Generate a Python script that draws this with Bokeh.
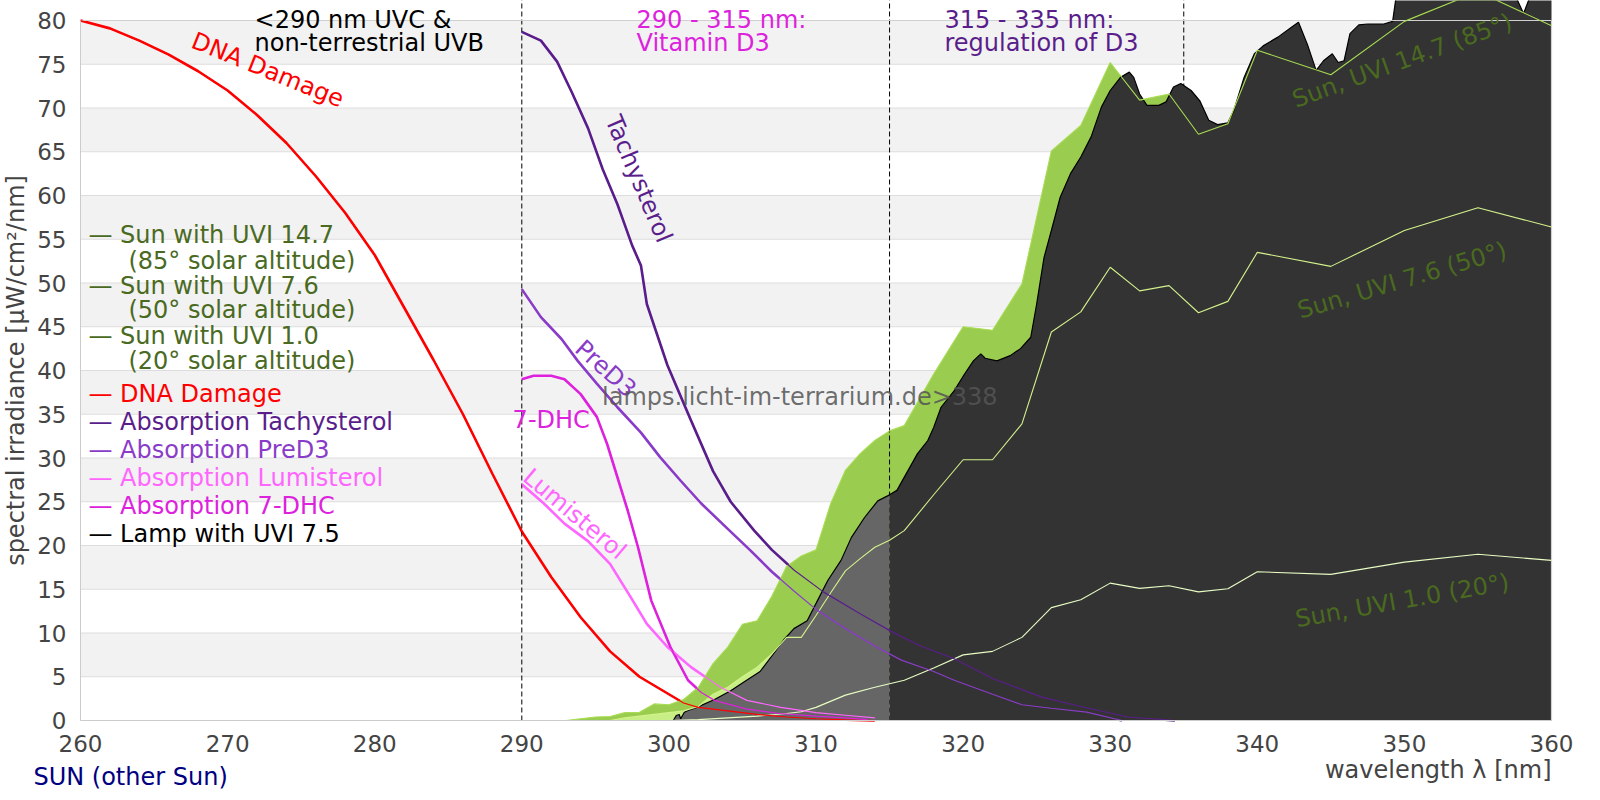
import numpy as np
from bokeh.plotting import figure
from bokeh.models import Range1d, FixedTicker, Label
from bokeh.embed import file_html
from bokeh.resources import INLINE

FONT = "DejaVu Sans"

# ---------------- data ----------------
dna_x = [260, 262, 264, 266, 268, 270, 272, 274, 276, 278, 280, 282, 284, 286, 288, 290,
         292, 294, 296, 298, 299, 300, 301, 302, 304, 306, 308, 310, 312, 314]
dna_y = [80, 79.1, 77.7, 76.1, 74.2, 72, 69.2, 66, 62.2, 58, 53.2, 47.2, 41.2, 35, 28.2, 21.6,
         16.4, 11.8, 7.9, 5.0, 4.0, 3.0, 2.0, 1.5, 1.1, 0.7, 0.4, 0.2, 0.08, 0]

tachy_x = [290, 291.3, 292.4, 293.4, 294.5, 295.5, 296.5, 297.5, 298.1, 298.5, 299.9, 301.5,
           303, 304.2, 305.8, 307, 308.5, 310.5, 313, 315.2, 317, 319.4, 322, 325.3, 328,
           331.2, 334.4]
tachy_y = [78.7, 77.7, 75.3, 71.8, 67.7, 63, 59, 54.3, 52, 47.6, 40.6, 34.3,
           28.5, 25, 21.7, 19.5, 17.2, 14.7, 12.2, 10.1, 8.6, 7.05, 4.8, 2.7, 1.6,
           0.4, 0]

pred3_x = [290, 291.3, 292.7, 293.8, 295.1, 296.5, 298.1, 299.4, 300.8, 302.2, 304, 305.5,
           307, 308.5, 310, 312, 314, 315.8, 318, 319.4, 322, 324, 326, 328.4, 330.8]
pred3_y = [49.3, 46.1, 43.6, 41.1, 38.5, 35.8, 32.9, 30.1, 27.4, 24.8, 21.9, 19.5,
           17, 14.8, 12.7, 10.5, 8.5, 6.9, 5.6, 4.6, 3, 1.8, 1.4, 0.95, 0]

dhc_x = [290, 290.8, 292, 292.9, 294, 295.1, 295.8, 296.5, 297.2, 297.9, 298.8, 300.1,
         301.3, 302.2, 303.1, 305.3, 307.5, 310, 312, 313.5]
dhc_y = [39, 39.4, 39.4, 39, 37.3, 34.7, 31.6, 27.8, 24, 19.8, 13.7, 8.4,
         4.6, 3.2, 2.3, 1.3, 0.8, 0.5, 0.3, 0.1]

lumi_x = [290, 291.5, 292.9, 294.5, 296, 297.4, 298.5, 299.9, 301.5, 303.5, 305.3, 307.6,
          310, 312, 314]
lumi_y = [27, 24.8, 22.5, 20.5, 17.9, 14.1, 11.05, 8.4, 6.1, 3.8, 2.3, 1.5,
          0.9, 0.6, 0.3]

sun147_x = [293, 294, 295, 296, 297, 298, 299, 300, 301, 302, 303, 304, 305, 306, 307, 308,
            309, 310, 311, 312, 313, 314, 315, 316, 318, 320, 322, 324, 326, 328, 330, 332,
            334, 336, 338, 340, 345, 350, 355, 360]
sun147_y = [0, 0.2, 0.4, 0.45, 0.9, 0.95, 1.9, 1.8, 2.4, 3.8, 6.5, 8.4, 11, 11.4, 14.2, 17.6,
            18.8, 19.5, 24.8, 28.6, 30.5, 32, 33.1, 33.7, 39.6, 45, 44.6, 49.9, 65.1, 68, 75.2, 70.9,
            71.6, 67, 68.2, 76.6, 73.8, 79.9, 83.3, 79.4]

sun76_x = [296, 297, 298, 299, 300, 301, 302, 303, 304, 305, 306, 307, 308, 309, 310, 311,
           312, 313, 314, 315, 316, 318, 320, 322, 324, 326, 328, 330, 332, 334, 336, 338,
           340, 345, 350, 355, 360]
sun76_y = [0, 0.3, 0.5, 0.7, 0.9, 1.1, 1.6, 3.0, 3.8, 5.0, 6.1, 7.6, 9.5, 9.5, 12.0, 14.6,
           17.1, 18.5, 19.8, 20.6, 21.7, 25.8, 29.8, 29.8, 33.9, 44.4, 46.7, 51.8, 49.1, 49.7, 46.6, 47.9,
           53.5, 51.9, 56, 58.6, 56.4]

sun10_x = [300, 302, 304, 306, 308, 309, 310, 312, 314, 316, 318, 320, 322, 324, 326, 328,
           330, 332, 334, 336, 338, 340, 345, 350, 355, 360]
sun10_y = [0, 0.1, 0.3, 0.5, 0.8, 1.0, 1.5, 2.9, 3.8, 4.6, 6.0, 7.5, 7.9, 9.5, 12.9, 13.8,
           15.7, 15.1, 15.4, 14.7, 15.05, 17, 16.7, 18.1, 19, 18.3]

lamp_x = [300.3, 300.5, 300.7, 300.8, 301.05, 301.3, 301.9, 303.1, 304.2, 305.1, 306.2, 307.1,
          307.8, 308.5, 309.4, 310.1, 310.8, 311.7, 312.4, 313.3, 314.2, 314.9, 315.0, 315.5,
          316.9, 317.6, 318.0, 318.5, 319.4, 320.1, 320.7, 321.2, 321.5, 322.3, 323.2, 323.9,
          324.6, 325.0, 325.5, 326.0, 326.6, 327.3, 328.0, 328.7, 329.4, 330.0, 330.7, 331.3,
          331.6, 332.0, 332.5, 333.3, 333.8, 334.3, 334.8, 335.5, 336.1, 336.7, 337.3, 338.0,
          338.4, 339.1, 339.8, 340.4, 341.4, 342.3, 342.8, 343.4, 344.0, 344.5, 345.1, 345.5,
          345.9, 346.3, 346.9, 347.5, 348.6, 349.2, 349.5, 350.5, 352, 354, 356, 357.5,
          358.1, 358.6, 359.2, 360]
lamp_y = [0, 0.57, 0.69, 0.2, 0.95, 1.14, 1.5, 2.4, 3.4, 4.4, 5.6, 7.6,
          9.2, 10.5, 11.4, 13.7, 16.0, 18.3, 20.9, 23.2, 25.1, 25.7, 25.8, 26.3,
          30.5, 32.0, 33.5, 35.8, 37.7, 39.6, 41.1, 41.9, 41.4, 41.1, 41.7, 42.5,
          43.8, 47.6, 52.9, 56.0, 59.8, 62.5, 64.4, 66.7, 70.1, 72.0, 73.5, 74.1,
          73.5, 71.6, 70.3, 70.3, 70.7, 72.4, 72.8, 72.0, 70.8, 68.6, 68.1, 68.3,
          69.7, 73.5, 76.2, 77.1, 78.1, 79.2, 79.8, 77.3, 74.3, 75.4, 76.2, 75.2,
          75.4, 78.5, 79.5, 79.6, 79.6, 79.9, 83.5, 85, 86, 88, 86, 83,
          80.8, 83, 86, 86]

region_bounds = [290, 315, 335]
x_ticks = list(range(260, 361, 10))
y_ticks = list(range(0, 81, 5))

legend_entries = [
    ("— Sun with UVI 14.7", "#4a6a1f"),
    ("(85° solar altitude)", "#4a6a1f"),
    ("— Sun with UVI 7.6", "#4a6a1f"),
    ("(50° solar altitude)", "#4a6a1f"),
    ("— Sun with UVI 1.0", "#4a6a1f"),
    ("(20° solar altitude)", "#4a6a1f"),
    ("— DNA Damage", "#ff0000"),
    ("— Absorption Tachysterol", "#5a1e8c"),
    ("— Absorption PreD3", "#8a3cc8"),
    ("— Absorption Lumisterol", "#ff66ff"),
    ("— Absorption 7-DHC", "#dd22dd"),
    ("— Lamp with UVI 7.5", "#000000"),
]

# ---------------- figure ----------------
X0, X1 = 260, 360
Y0, Y1 = 0, 80
W, H = 1584, 800
PX_X = 14.71          # pixels per nm
PX_Y = 8.75           # pixels per unit
XS = X0 - 80 / PX_X   # frame spans the whole canvas; axes are fixed inside it
XE = XS + W / PX_X
YE = Y1 + 20 / PX_Y
YS = YE - H / PX_Y
TXT = "24px"

p = figure(width=W, height=H, output_backend="svg", toolbar_location=None,
           x_range=Range1d(XS, XE), y_range=Range1d(YS, YE),
           min_border_left=0, min_border_right=0, min_border_top=0, min_border_bottom=0)
p.outline_line_color = None
p.background_fill_color = "white"
p.border_fill_color = "white"
p.grid.visible = False

p.xaxis.ticker = FixedTicker(ticks=x_ticks)
p.yaxis.ticker = FixedTicker(ticks=y_ticks)
p.xaxis.fixed_location = Y0
p.yaxis.fixed_location = X0
p.xaxis.bounds = (X0, X1)
p.yaxis.bounds = (Y0, Y1)
for ax in (p.xaxis[0], p.yaxis[0]):
    ax.axis_line_color = "#cccccc"
    ax.major_tick_line_color = None
    ax.minor_tick_line_color = None
    ax.major_label_text_font = FONT
    ax.major_label_text_font_size = "23px"
    ax.major_label_text_color = "#444444"
    ax.major_label_standoff = 8
    ax.axis_label_text_font = FONT
    ax.axis_label_text_font_size = TXT
    ax.axis_label_text_font_style = "normal"
    ax.axis_label_text_color = "#444444"
p.yaxis.axis_label = "spectral irradiance [µW/cm²/nm]"
p.yaxis.axis_label_standoff = 4

# background bands and grid lines (alternate bands between ticks)
band_lo = y_ticks[1:-1:2]
p.quad(left=X0, right=X1, bottom=band_lo, top=[b + 5 for b in band_lo],
       fill_color="#f2f2f2", line_color=None)
p.segment(x0=X0, y0=y_ticks, x1=X1, y1=y_ticks, line_color="#dddddd", line_width=1)

lamp_xa = np.array(lamp_x)
lamp_ya = np.array(lamp_y)

def thick(x, y, c):
    p.line(x, y, line_color=c, line_width=2.6)

def thin(x, y, c):
    p.line(x, y, line_color=c, line_width=1.2)

# thick absorption/damage curves (below the sun fill)
thick(dna_x, dna_y, "#ff0000")
thick(tachy_x, tachy_y, "#5a1e8c")
thick(pred3_x, pred3_y, "#8a3cc8")
thick(lumi_x, lumi_y, "#ff66ff")
thick(dhc_x, dhc_y, "#dd22dd")

# sun fills
p.varea(x=sun147_x, y1=0, y2=sun147_y, fill_color="#9acd4f")
p.varea(x=sun76_x, y1=0, y2=sun76_y, fill_color="#c8ef86")
p.varea(x=sun10_x, y1=0, y2=sun10_y, fill_color="#e2f8c0")

# region boundaries
p.segment(x0=region_bounds, y0=0, x1=region_bounds, y1=YE + 5,
          line_color="black", line_width=1, line_dash="5 3")

# lamp
lo = lamp_xa <= 315
hi = lamp_xa >= 315
p.varea(x=lamp_xa[lo], y1=0, y2=lamp_ya[lo], fill_color="#666666")
p.varea(x=lamp_xa[hi], y1=0, y2=lamp_ya[hi], fill_color="#333333")
p.line(lamp_x, lamp_y, line_color="black", line_width=1.2)

# frame top / right
p.segment(x0=[X0, X1], y0=[Y1, Y0], x1=[X1, X1], y1=[Y1, Y1], line_color="#d0d0d0", line_width=1.2)

# sun lines
p.line(sun147_x, sun147_y, line_color="#a8dc52", line_width=1.1)
p.line(sun76_x, sun76_y, line_color="#d4f28c", line_width=1.1)
p.line(sun10_x, sun10_y, line_color="#e8fcc4", line_width=1.1)

# thin curves on top
thin(dna_x, dna_y, "#ff0000")
thin(tachy_x, tachy_y, "#5a1e8c")
thin(pred3_x, pred3_y, "#8a3cc8")
thin(lumi_x, lumi_y, "#ff66ff")
thin(dhc_x, dhc_y, "#dd22dd")

def lab(x, y, text, color, size=TXT, angle_deg=0, align="center", baseline="middle", alpha=1.0):
    p.add_layout(Label(x=x, y=y, text=text, text_color=color, text_font=FONT,
                       text_font_size=size, angle=np.radians(angle_deg), text_align=align,
                       text_baseline=baseline, text_alpha=alpha))

# curve labels
lab(272.73, 74.35, "DNA Damage", "#ff0000", angle_deg=-22)
lab(297.95, 61.9, "Tachysterol", "#5a1e8c", angle_deg=-67)
lab(295.7, 40.2, "PreD3", "#8a3cc8", angle_deg=-42)
lab(292.0, 34.4, "7-DHC", "#dd22dd")
lab(293.6, 23.6, "Lumisterol", "#ff66ff", angle_deg=-40)
lab(349.85, 75.4, "Sun, UVI 14.7 (85°)", "#4a6a1f", angle_deg=20)
lab(349.85, 50.3, "Sun, UVI 7.6 (50°)", "#4a6a1f", angle_deg=16.5)
lab(349.85, 13.7, "Sun, UVI 1.0 (20°)", "#4a6a1f", angle_deg=10)

# watermark
lab(308.9, 36.95, "lamps.licht-im-terrarium.de>338", "#555555", size="24px", alpha=0.85)

# region texts
lab(271.83, 80.05, "<290 nm UVC &", "#000000", align="left")
lab(271.83, 77.4, "non-terrestrial UVB", "#000000", align="left")
lab(297.8, 80.05, "290 - 315 nm:", "#dd22dd", align="left")
lab(297.8, 77.4, "Vitamin D3", "#dd22dd", align="left")
lab(318.73, 80.05, "315 - 335 nm:", "#5a1e8c", align="left")
lab(318.73, 77.4, "regulation of D3", "#5a1e8c", align="left")

# legend
leg_y = [55.43, 52.57, 49.71, 46.86, 44.0, 41.14, 37.37, 34.06, 30.86, 27.66, 24.46, 21.37]
for (txt, col), yy in zip(legend_entries, leg_y):
    xx = 263.26 if txt.startswith("(") else 260.54
    lab(xx, yy, txt, col, align="left")

# texts below the axis
lab(X1, -5.71, "wavelength λ [nm]", "#444444", align="right")
lab(256.8, -6.51, "SUN (other Sun)", "#000080", align="left")

open("out.html", "w").write(file_html(p, INLINE))
